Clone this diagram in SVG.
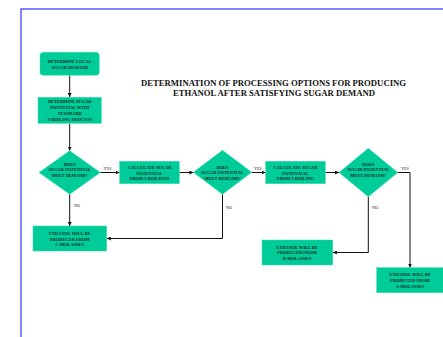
<svg xmlns="http://www.w3.org/2000/svg" width="443" height="337" viewBox="0 0 443 337">
<defs>
<style>
.n{fill:#00cc99;stroke:#33ddaa;stroke-width:0.5}
.t{font-family:"Liberation Serif",serif;font-weight:bold;font-size:4.4px;fill:#0a2a22;text-anchor:middle}
.l{font-family:"Liberation Serif",serif;font-size:4.2px;fill:#222;text-anchor:middle}
.c{fill:none;stroke:#111;stroke-width:1}
.ti{font-family:"Liberation Serif",serif;font-weight:bold;font-size:8px;fill:#111;text-anchor:middle}
</style>
<marker id="a" viewBox="0 0 6 6" refX="6" refY="3" markerWidth="4" markerHeight="4" orient="auto" markerUnits="userSpaceOnUse">
<path d="M0,0 L6,3 L0,6 z" fill="#111"/>
</marker>
</defs>
<rect width="443" height="337" fill="#fff"/>
<path d="M21,337 V9 H443" fill="none" stroke="#5a5aff" stroke-width="1.5"/>
<g id="title">
<text class="ti" x="273.5" y="85.5" textLength="265" lengthAdjust="spacingAndGlyphs">DETERMINATION OF PROCESSING OPTIONS FOR  PRODUCING</text>
<text class="ti" x="274" y="95.5" textLength="202" lengthAdjust="spacingAndGlyphs">ETHANOL AFTER SATISFYING SUGAR DEMAND</text>
</g>
<g id="connectors">
<path class="c" d="M69.7,75.5 V97" marker-end="url(#a)"/>
<path class="c" d="M69.7,123.5 V150.5" marker-end="url(#a)"/>
<path class="c" d="M100.3,172.5 H119.5" marker-end="url(#a)"/>
<path class="c" d="M179.5,172.5 H193.3" marker-end="url(#a)"/>
<path class="c" d="M251.7,172.5 H265.5" marker-end="url(#a)"/>
<path class="c" d="M325.5,172.5 H339" marker-end="url(#a)"/>
<path class="c" d="M397.7,172.5 H410 V267.5" marker-end="url(#a)"/>
<path class="c" d="M69.7,194.3 V226" marker-end="url(#a)"/>
<path class="c" d="M222.5,194.3 V238.5 H106.8" marker-end="url(#a)"/>
<path class="c" d="M368.3,196.7 V252.5 H332.8" marker-end="url(#a)"/>
<text class="l" x="107.5" y="169.5">YES</text>
<text class="l" x="258" y="169.5">YES</text>
<text class="l" x="405" y="169.5">YES</text>
<text class="l" x="77" y="206.5">NO</text>
<text class="l" x="229" y="208.5">NO</text>
<text class="l" x="375" y="208.5">NO</text>
</g>
<g id="start">
<rect class="n" x="40" y="52.3" width="59.3" height="23" rx="3.5"/>
<text class="t" x="69.7" y="62.5">DETERMINE LOCAL</text>
<text class="t" x="69.7" y="68.5">SUGAR DEMAND</text>
</g>
<g id="standard">
<rect class="n" x="38" y="97.3" width="63.3" height="26"/>
<text class="t" x="69.7" y="102.5">DETERMINE SUGAR</text>
<text class="t" x="69.7" y="108.5">POTENTIAL WITH</text>
<text class="t" x="69.7" y="114.5">STANDARD</text>
<text class="t" x="69.7" y="120.5">3-BOILING PROCESS</text>
</g>
<g id="dec1">
<polygon class="n" points="69.7,150.7 100.3,172.5 69.7,194.3 39,172.5"/>
<text class="t" x="69.7" y="165.5">DOES</text>
<text class="t" x="69.7" y="170.8">SUGAR POTENTIAL</text>
<text class="t" x="69.7" y="176.5">MEET DEMAND?</text>
</g>
<g id="calc2">
<rect class="n" x="119.7" y="161.3" width="59.6" height="22.4"/>
<text class="t" x="149.5" y="168.5">CALCULATE SUGAR</text>
<text class="t" x="149.5" y="174.5">POTENTIAL</text>
<text class="t" x="149.5" y="179.8">FROM 2 BOILINGS</text>
</g>
<g id="dec2">
<polygon class="n" points="222.5,150.3 251.7,172.3 222.5,194.3 193.3,172.3"/>
<text class="t" x="222.5" y="168.5">DOES</text>
<text class="t" x="222.5" y="173.8">SUGAR POTENTIAL</text>
<text class="t" x="222.5" y="179.5">MEET DEMAND?</text>
</g>
<g id="calc1">
<rect class="n" x="265.7" y="161.3" width="59.6" height="22.4"/>
<text class="t" x="295.5" y="168.5">CALCULATE SUGAR</text>
<text class="t" x="295.5" y="174.5">POTENTIAL</text>
<text class="t" x="295.5" y="179.8">FROM 1 BOILING</text>
</g>
<g id="dec3">
<polygon class="n" points="368.3,148.3 397.7,172.5 368.3,196.7 339,172.5"/>
<text class="t" x="368.3" y="165.5">DOES</text>
<text class="t" x="368.3" y="170.8">SUGAR POTENTIAL</text>
<text class="t" x="368.3" y="176.5">MEET DEMAND?</text>
</g>
<g id="cmol">
<rect class="n" x="33" y="226" width="73.7" height="25"/>
<text class="t" x="69.7" y="234.5">ETHANOL WILL BE</text>
<text class="t" x="69.7" y="240.5">PRODUCED FROM</text>
<text class="t" x="69.7" y="245.5">C-MOLASSES</text>
</g>
<g id="bmol">
<rect class="n" x="262" y="240" width="70.7" height="25"/>
<text class="t" x="297" y="248.5">ETHANOL WILL BE</text>
<text class="t" x="297" y="253.8">PRODUCED FROM</text>
<text class="t" x="297" y="259.5">B-MOLASSES</text>
</g>
<g id="amol">
<rect class="n" x="376.7" y="267.7" width="66.5" height="25"/>
<text class="t" x="410" y="276">ETHANOL WILL BE</text>
<text class="t" x="410" y="282">PRODUCED FROM</text>
<text class="t" x="410" y="288">A-MOLASSES</text>
</g>
</svg>
